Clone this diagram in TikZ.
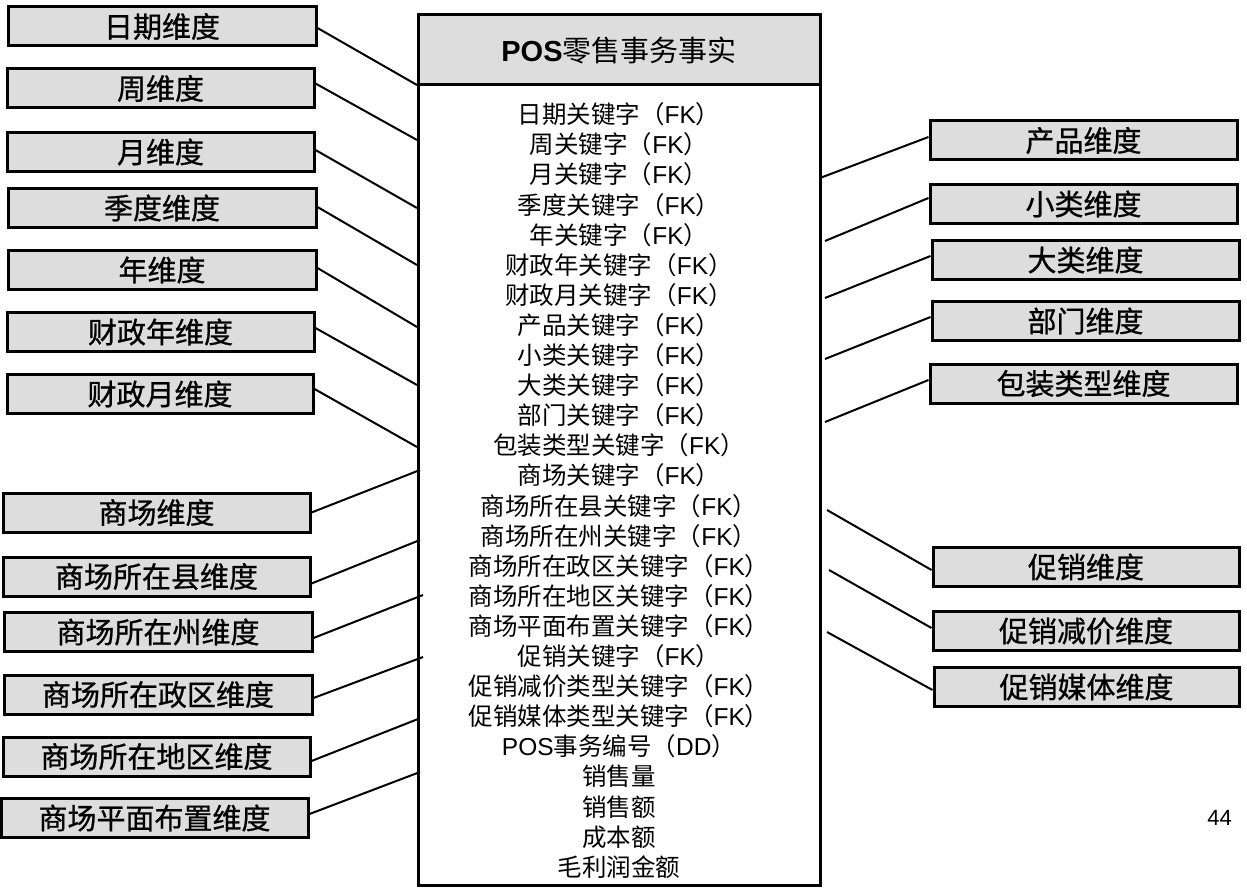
\documentclass[tikz,border=0pt]{standalone}
\usepackage{fontspec}
\setmainfont{Liberation Sans}
\newfontfamily\cjk{Noto Sans CJK SC}
\newfontfamily\cjkdim[FakeBold=0.8]{Noto Sans CJK SC}
\definecolor{boxgray}{RGB}{221,221,221}
\newcommand\fkline[1]{{\cjk #1（}FK{\cjk ）}}
\begin{document}
\begin{tikzpicture}[x=1pt,y=-1pt,
  dimbox/.style={draw=black, line width=3, fill=boxgray, inner sep=0pt,
    minimum height=39, font=\cjkdim\fontsize{29}{32}\selectfont},
  conn/.style={draw=black, line width=2},
  factbox/.style={draw=black, line width=3, fill=white},
  factbody/.style={inner sep=0pt, align=center, font=\fontsize{24.5}{30.1}\selectfont}]
\useasboundingbox (0,0) rectangle (1247,893);
% fact table
\draw[factbox] (418,15) rectangle (820,885);
\node[draw=black, line width=3, fill=boxgray, minimum width=402, minimum height=70, inner sep=0pt] (fhead) at (619,50)
  {\fontsize{29}{32}\selectfont\textbf{POS}{\cjk 零售事务事实}};
\node[factbody] (fbody) at (619,490.5) {%
\fkline{日期关键字}\\
\fkline{周关键字}\\
\fkline{月关键字}\\
\fkline{季度关键字}\\
\fkline{年关键字}\\
\fkline{财政年关键字}\\
\fkline{财政月关键字}\\
\fkline{产品关键字}\\
\fkline{小类关键字}\\
\fkline{大类关键字}\\
\fkline{部门关键字}\\
\fkline{包装类型关键字}\\
\fkline{商场关键字}\\
\fkline{商场所在县关键字}\\
\fkline{商场所在州关键字}\\
\fkline{商场所在政区关键字}\\
\fkline{商场所在地区关键字}\\
\fkline{商场平面布置关键字}\\
\fkline{促销关键字}\\
\fkline{促销减价类型关键字}\\
\fkline{促销媒体类型关键字}\\
POS{\cjk 事务编号（}DD{\cjk ）}\\
{\cjk 销售量}\\
{\cjk 销售额}\\
{\cjk 成本额}\\
{\cjk 毛利润金额}};
% left dimension boxes
\node[dimbox, minimum width=308] (l1) at (162,26.5) {日期维度};
\node[dimbox, minimum width=307] (l2) at (160.5,88.5) {周维度};
\node[dimbox, minimum width=307] (l3) at (160.5,152) {月维度};
\node[dimbox, minimum width=308] (l4) at (162,208) {季度维度};
\node[dimbox, minimum width=308] (l5) at (162,270) {年维度};
\node[dimbox, minimum width=307] (l6) at (160.5,332) {财政年维度};
\node[dimbox, minimum width=306] (l7) at (160,394) {财政月维度};
\node[dimbox, minimum width=307] (l8) at (156.5,512.5) {商场维度};
\node[dimbox, minimum width=307] (l9) at (156.5,576.5) {商场所在县维度};
\node[dimbox, minimum width=308] (l10) at (158,632) {商场所在州维度};
\node[dimbox, minimum width=308] (l11) at (158,694.5) {商场所在政区维度};
\node[dimbox, minimum width=307] (l12) at (156.5,756.5) {商场所在地区维度};
\node[dimbox, minimum width=307] (l13) at (154.5,818) {商场平面布置维度};
% right dimension boxes
\node[dimbox, minimum width=307] (r1) at (1083.5,140.5) {产品维度};
\node[dimbox, minimum width=307] (r2) at (1083.5,204) {小类维度};
\node[dimbox, minimum width=307] (r3) at (1085.5,260) {大类维度};
\node[dimbox, minimum width=307] (r4) at (1085.5,321) {部门维度};
\node[dimbox, minimum width=307] (r5) at (1083.5,383.5) {包装类型维度};
\node[dimbox, minimum width=306] (r6) at (1086,567) {促销维度};
\node[dimbox, minimum width=306] (r7) at (1086,631) {促销减价维度};
\node[dimbox, minimum width=305] (r8) at (1086.5,687) {促销媒体维度};
% page number
\node[inner sep=0pt, font=\fontsize{22}{24}\selectfont] (pg) at (1219.5,817.5) {44};
% connector end points on the fact table
\coordinate (el1) at (417,85);
\coordinate (el2) at (417,140);
\coordinate (el3) at (417,208);
\coordinate (el4) at (417,265);
\coordinate (el5) at (417,327);
\coordinate (el6) at (417,385);
\coordinate (el7) at (417,447);
\coordinate (el8) at (420,470);
\coordinate (el9) at (420,540);
\coordinate (el10) at (423,595);
\coordinate (el11) at (423,657);
\coordinate (el12) at (418,719);
\coordinate (el13) at (420,772);
\coordinate (er1) at (820,178);
\coordinate (er2) at (825,241);
\coordinate (er3) at (825,298);
\coordinate (er4) at (825,359);
\coordinate (er5) at (825,422);
\coordinate (er6) at (827,510);
\coordinate (er7) at (829,570);
\coordinate (er8) at (827,632);
% connectors
\draw[conn] ([yshift=-1.5]l1.east) -- (el1);
\draw[conn] ([yshift=5]l2.east) -- (el2);
\draw[conn] ([yshift=2]l3.east) -- (el3);
\draw[conn] ([yshift=1]l4.east) -- (el4);
\draw[conn] ([yshift=2]l5.east) -- (el5);
\draw[conn] ([yshift=4]l6.east) -- (el6);
\draw[conn] ([yshift=5]l7.east) -- (el7);
\draw[conn] (l8.east) -- (el8);
\draw[conn] ([yshift=-7]l9.east) -- (el9);
\draw[conn] ([yshift=-6]l10.east) -- (el10);
\draw[conn] ([yshift=-3.5]l11.east) -- (el11);
\draw[conn] ([yshift=-4.5]l12.east) -- (el12);
\draw[conn] ([yshift=4]l13.east) -- (el13);
\draw[conn] ([yshift=3.5]r1.west) -- (er1);
\draw[conn] ([yshift=6]r2.west) -- (er2);
\draw[conn] ([yshift=4]r3.west) -- (er3);
\draw[conn] ([yshift=4]r4.west) -- (er4);
\draw[conn] ([yshift=3.5]r5.west) -- (er5);
\draw[conn] ([yshift=-3]r6.west) -- (er6);
\draw[conn] ([yshift=3]r7.west) -- (er7);
\draw[conn] ([yshift=-3]r8.west) -- (er8);
\end{tikzpicture}
\end{document}
